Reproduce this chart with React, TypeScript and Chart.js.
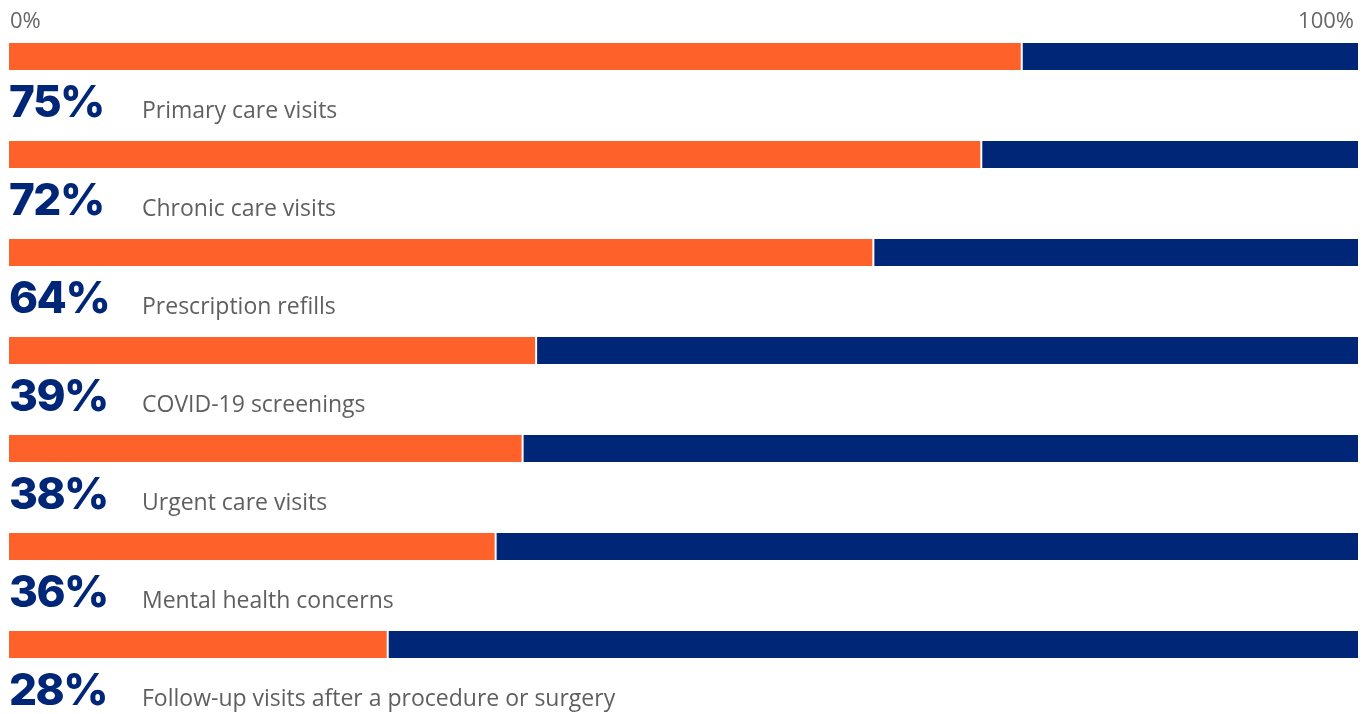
import React, { useEffect, useRef } from "react";
import { Chart, registerables } from "chart.js";

Chart.register(...registerables);

const categories = [
  "Primary care visits",
  "Chronic care visits",
  "Prescription refills",
  "COVID-19 screenings",
  "Urgent care visits",
  "Mental health concerns",
  "Follow-up visits after a procedure or surgery",
];
const values = [75, 72, 64, 39, 38, 36, 28];
const remainder = values.map((v) => 100 - v);
const axisLabels = ["0%", "100%"];
const axisValues = [0, 100];

const ORANGE = "#FF612B";
const NAVY = "#002677";
const GRAY = "#5f5f5f";

const labelPlugin = {
  id: "labelPlugin",
  afterDraw(chart: any) {
    const ctx = chart.ctx;
    const x = chart.scales.x;
    const meta = chart.getDatasetMeta(0);
    ctx.save();
    // top axis labels
    ctx.fillStyle = "#666666";
    ctx.font = "22px 'Open Sans'";
    ctx.textBaseline = "alphabetic";
    axisValues.forEach((v, i) => {
      const px = x.getPixelForValue(v);
      ctx.textAlign = i === 0 ? "left" : "right";
      ctx.fillText(axisLabels[i], i === 0 ? px + 1 : px - 4, 28);
    });
    // row labels
    meta.data.forEach((bar: any, i: number) => {
      const bottom = bar.y + bar.height / 2;
      ctx.textAlign = "left";
      ctx.fillStyle = NAVY;
      ctx.font = "800 44px Inter";
      (ctx as any).letterSpacing = "-1.5px";
      ctx.fillText(values[i] + "%", x.left, bottom + 47);
      (ctx as any).letterSpacing = "0px";
      ctx.fillStyle = GRAY;
      ctx.font = "23px 'Open Sans'";
      ctx.fillText(categories[i], x.left + 133, bottom + 48);
    });
    ctx.restore();
  },
};

export default function App() {
  const ref = useRef<HTMLCanvasElement>(null);
  useEffect(() => {
    const chart = new Chart(ref.current!, {
      type: "bar",
      data: {
        labels: categories,
        datasets: [
          {
            data: values,
            backgroundColor: ORANGE,
            borderWidth: 0,
            barPercentage: 1,
            categoryPercentage: 0.2755,
          },
          {
            data: remainder,
            backgroundColor: NAVY,
            borderColor: "#ffffff",
            borderWidth: { left: 2, right: 0, top: 0, bottom: 0 },
            borderSkipped: false,
            barPercentage: 1,
            categoryPercentage: 0.2755,
          },
        ],
      },
      options: {
        indexAxis: "y",
        animation: false,
        responsive: true,
        maintainAspectRatio: false,
        layout: { padding: { left: 9, right: 9, top: 7.5, bottom: 20.5 } },
        plugins: { legend: { display: false }, tooltip: { enabled: false } },
        scales: {
          x: { stacked: true, min: 0, max: 100, display: false },
          y: { stacked: true, display: false },
        },
      },
      plugins: [labelPlugin],
    } as any);
    return () => chart.destroy();
  }, []);
  return (
    <div style={{ position: "absolute", left: 0, top: 0, width: 1367, height: 714 }}>
      <canvas ref={ref} />
    </div>
  );
}
